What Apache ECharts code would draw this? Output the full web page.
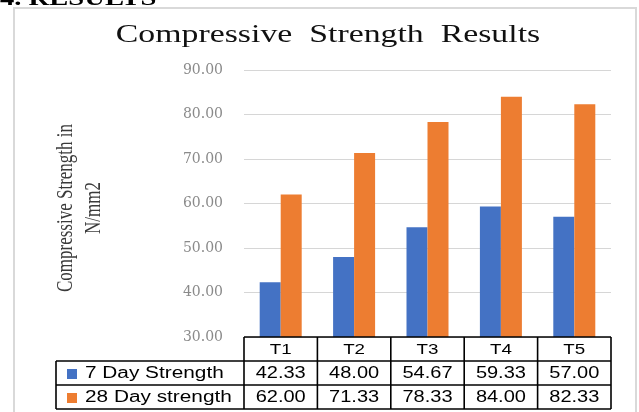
<!DOCTYPE html>
<html>
<head>
<meta charset="utf-8">
<script src="https://cdn.jsdelivr.net/npm/echarts@6/dist/echarts.min.js"></script>
<style>
  html, body { margin: 0; padding: 0; background: #fff; }
  #container { width: 639px; height: 412px; }
</style>
</head>
<body>
<div id="container"></div>
<script>
// data
var categories = ['T1', 'T2', 'T3', 'T4', 'T5'];
var day7 = [42.33, 48.00, 54.67, 59.33, 57.00];
var day28 = [62.00, 71.33, 78.33, 84.00, 82.33];
var seriesNames = ['7 Day Strength', '28 Day strength'];
var yMin = 30, yMax = 90, yStep = 10;

var colors = ['#4472C4', '#ED7D31'];
var serif = '"Liberation Serif", "DejaVu Serif", serif';
var sans = '"Liberation Sans", Arial, sans-serif';

var dom = document.getElementById('container');
var myChart = echarts.init(dom, null, { renderer: 'canvas' });

myChart.setOption({
    animation: false,
    backgroundColor: '#fff',
    grid: { left: 244, right: 28, top: 70, bottom: 75 },
    xAxis: {
        type: 'category',
        data: categories,
        axisLine: { show: false },
        axisTick: { show: false },
        axisLabel: { show: false }
    },
    yAxis: {
        type: 'value',
        min: yMin,
        max: yMax,
        interval: yStep,
        axisLine: { show: false },
        axisTick: { show: false },
        axisLabel: {
            margin: 21,
            fontFamily: '"DejaVu Serif", serif',
            fontSize: 14,
            color: '#8a8a8a',
            formatter: function (v) { return v.toFixed(2); }
        },
        splitLine: { lineStyle: { color: '#d6d6d6', width: 1 } }
    },
    series: [
        {
            name: seriesNames[0],
            type: 'bar',
            data: day7,
            barWidth: 21,
            barGap: '0%',
            itemStyle: { color: colors[0] }
        },
        {
            name: seriesNames[1],
            type: 'bar',
            data: day28,
            barWidth: 21,
            barGap: '0%',
            itemStyle: { color: colors[1] }
        }
    ]
});

// table under the plot, placed from the axes
function buildGraphics() {
    var c0 = myChart.convertToPixel({ xAxisIndex: 0 }, categories[0]);
    var c1 = myChart.convertToPixel({ xAxisIndex: 0 }, categories[1]);
    var band = c1 - c0;
    var top = myChart.convertToPixel({ yAxisIndex: 0 }, yMin);
    var rowH = 24;
    var legendLeft = 56;
    var xs = [];
    for (var i = 0; i <= categories.length; i++) {
        xs.push(c0 - band / 2 + i * band);
    }
    var right = xs[xs.length - 1];
    var bottom = top + rowH * 3;
    var lineStyle = { stroke: '#000', lineWidth: 1.6 };
    var els = [];

    // frame around the chart
    els.push({
        type: 'rect',
        shape: { x: 14, y: 8, width: 622, height: 420 },
        style: { fill: null, stroke: '#d9d9d9', lineWidth: 2 },
        silent: true
    });
    // heading cut off at the top
    els.push({
        type: 'text',
        x: 0, y: 10,
        scaleX: 1.3,
        style: {
            text: '4. RESULTS',
            font: 'bold 22px ' + serif,
            fill: '#000',
            verticalAlign: 'bottom'
        }
    });
    // title
    els.push({
        type: 'text',
        x: 328, y: 35,
        scaleX: 1.3,
        style: {
            text: 'Compressive  Strength  Results',
            font: '26px ' + serif,
            fill: '#111',
            align: 'center',
            verticalAlign: 'middle'
        }
    });
    // y axis name
    els.push({
        type: 'text',
        x: 80, y: 208,
        rotation: Math.PI / 2,
        scaleY: 1.3,
        style: {
            text: 'Compressive Strength in\nN/mm2',
            font: '17px ' + serif,
            lineHeight: 22,
            fill: '#3a3a3a',
            align: 'center',
            verticalAlign: 'middle'
        }
    });

    // horizontal lines
    els.push({ type: 'line', shape: { x1: xs[0], y1: top, x2: right, y2: top }, style: lineStyle, z: 10 });
    for (var r = 1; r <= 3; r++) {
        els.push({ type: 'line', shape: { x1: legendLeft, y1: top + r * rowH, x2: right, y2: top + r * rowH }, style: lineStyle, z: 10 });
    }
    // vertical lines
    els.push({ type: 'line', shape: { x1: legendLeft, y1: top + rowH, x2: legendLeft, y2: bottom }, style: lineStyle, z: 10 });
    xs.forEach(function (x) {
        els.push({ type: 'line', shape: { x1: x, y1: top, x2: x, y2: bottom }, style: lineStyle, z: 10 });
    });

    // header cells
    categories.forEach(function (cat, i) {
        els.push({
            type: 'text',
            x: c0 + i * band, y: top + rowH / 2 + 1,
            scaleX: 1.25,
            style: { text: cat, font: '15px ' + sans, fill: '#000', align: 'center', verticalAlign: 'middle' },
            z: 10
        });
    });

    // rows: legend key + values
    [day7, day28].forEach(function (vals, s) {
        var cy = top + rowH * (s + 1) + rowH / 2 + 1;
        els.push({
            type: 'rect',
            shape: { x: 67, y: cy - 5, width: 10, height: 10 },
            style: { fill: colors[s] },
            z: 10
        });
        els.push({
            type: 'text',
            x: 85, y: cy,
            scaleX: 1.3,
            style: { text: seriesNames[s], font: '16px ' + sans, fill: '#000', align: 'left', verticalAlign: 'middle' },
            z: 10
        });
        vals.forEach(function (v, i) {
            els.push({
                type: 'text',
                x: c0 + i * band, y: cy,
                scaleX: 1.25,
                style: { text: v.toFixed(2), font: '16px ' + sans, fill: '#000', align: 'center', verticalAlign: 'middle' },
                z: 10
            });
        });
    });

    myChart.setOption({ graphic: { elements: els } });
}

buildGraphics();
</script>
</body>
</html>
